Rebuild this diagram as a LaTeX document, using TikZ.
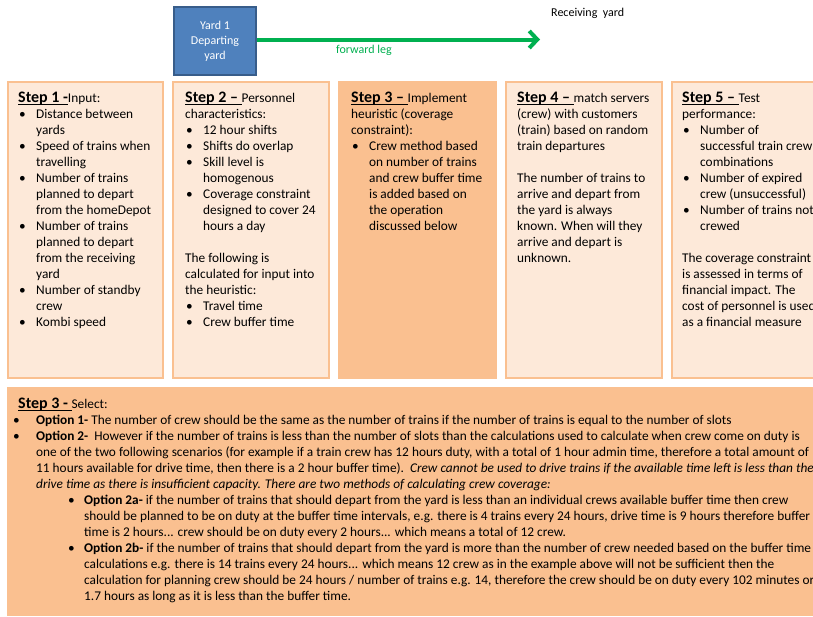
\documentclass[tikz,border=0pt]{standalone}
\usepackage{fontspec}
\setmainfont{Carlito}
\usetikzlibrary{arrows.meta}

\definecolor{peach}{HTML}{FDE9D9}
\definecolor{apricot}{HTML}{FAC090}
\definecolor{steel}{HTML}{4F81BD}
\definecolor{steeldark}{HTML}{385D8A}
\definecolor{leggreen}{HTML}{00B050}

% body text: 16pt leading, strut height 11.2pt
\newcommand\bodyfont{\fontsize{13.33}{16}\selectfont}
% bold underlined step heading
\newsavebox\ulbox
\newcommand\steptitle[1]{{\fontsize{16}{16}\selectfont\bfseries\sbox\ulbox{#1}\rlap{\rule[-2pt]{\wd\ulbox}{1.1pt}}\usebox\ulbox}}
% bullets and hanging indents in the step boxes
\newcommand\bu{\makebox[18pt][l]{\hspace{1pt}•}}
\newcommand\cn{\hspace*{18pt}}
% bullets and hanging indents in the selection box
\newcommand\bbu{\makebox[23pt][l]{•}}
\newcommand\bcn{\hspace*{23pt}}
\newcommand\sbu{\hspace*{55pt}\makebox[16pt][l]{•}}
\newcommand\scn{\hspace*{71pt}}

\tikzset{
  panel/.style={anchor=north west, inner sep=0pt, outer sep=0pt, line width=2pt, draw=apricot},
  stepbox/.style={panel, fill=peach},
  darkbox/.style={panel, fill=apricot},
  bodytext/.style={anchor=north west, inner sep=0pt, align=left, font=\bodyfont, text=black},
  yardbox/.style={draw=steeldark, fill=steel, line width=1.5pt, text=white, align=center,
    font=\fontsize{12}{15}\selectfont, inner sep=0pt, minimum width=82pt, minimum height=68pt},
  leg/.style={draw=leggreen, line width=4pt, -{Straight Barb[length=8pt,width=17pt]}},
  smalllabel/.style={anchor=base west, inner sep=0pt, font=\fontsize{12}{14}\selectfont},
}

\begin{document}
\begin{tikzpicture}[x=1pt, y=-1pt]
\useasboundingbox (0,0) rectangle (813,616);
\clip (0,0) rectangle (813,616);
\fill[white] (0,0) rectangle (813,616);

% yards and the forward leg
\node[yardbox] (yard) at (215,41) {Yard 1\\Departing\\yard};
\coordinate (recv) at (540,39.5);
\draw[leg] (recv -| yard.east) -- (recv);
\node[smalllabel, text=leggreen] (fwd) at (336,53.5) {forward leg};
\node[smalllabel, text=black] (recvlabel) at (551,16.5) {Receiving\ \ yard};

% step panels
\node[stepbox, minimum width=155pt, minimum height=296pt] (box1) at (8,82) {};
\node[stepbox, minimum width=156pt, minimum height=296pt] (box2) at (173,82) {};
\node[darkbox, minimum width=157pt, minimum height=296pt] (box3) at (339,82) {};
\node[stepbox, minimum width=156pt, minimum height=296pt] (box4) at (506,82) {};
\node[stepbox, minimum width=160pt, minimum height=296pt] (box5) at (672,82) {};
\node[darkbox, minimum width=820pt, minimum height=227pt] (select) at (8,388) {};

\node[bodytext] (t1) at (18,91.3) {\strut\steptitle{Step 1 -}Input:\\
\bu Distance between\\
\cn yards\\
\bu Speed of trains when\\
\cn travelling\\
\bu Number of trains\\
\cn planned to depart\\
\cn from the homeDepot\\
\bu Number of trains\\
\cn planned to depart\\
\cn from the receiving\\
\cn yard\\
\bu Number of standby\\
\cn crew\\
\bu Kombi speed};

\node[bodytext] (t2) at (185,91.3) {\strut\steptitle{Step 2 – }Personnel\\
characteristics:\\
\bu 12 hour shifts\\
\bu Shifts do overlap\\
\bu Skill level is\\
\cn homogenous\\
\bu Coverage constraint\\
\cn designed to cover 24\\
\cn hours a day\\[16pt]
The following is\\
calculated for input into\\
the heuristic:\\
\bu Travel time\\
\bu Crew buffer time};

\node[bodytext] (t3) at (351,91.3) {\strut\steptitle{Step 3 – }Implement\\
heuristic (coverage\\
constraint):\\
\bu Crew method based\\
\cn on number of trains\\
\cn and crew buffer time\\
\cn is added based on\\
\cn the operation\\
\cn discussed below};

\node[bodytext] (t4) at (517,91.3) {\strut\steptitle{Step 4 – }match servers\\
(crew) with customers\\
(train) based on random\\
train departures\\[16pt]
The number of trains to\\
arrive and depart from\\
the yard is always\\
known. When will they\\
arrive and depart is\\
unknown.};

\node[bodytext] (t5) at (682,91.3) {\strut\steptitle{Step 5 – }Test\\
performance:\\
\bu Number of\\
\cn successful train crew\\
\cn combinations\\
\bu Number of expired\\
\cn crew (unsuccessful)\\
\bu Number of trains not\\
\cn crewed\\[16pt]
The coverage constraint\\
is assessed in terms of\\
financial impact. The\\
cost of personnel is used\\
as a financial measure};

\node[bodytext] (t6) at (13,397.3) {\hspace*{5pt}\strut\steptitle{Step 3 - }Select:\\
\bbu\textbf{Option 1-} The number of crew should be the same as the number of trains if the number of trains is equal to the number of slots\\
\bbu\textbf{Option 2-}\ \ However if the number of trains is less than the number of slots than the calculations used to calculate when crew come on duty is\\
\bcn one of the two following scenarios (for example if a train crew has 12 hours duty, with a total of 1 hour admin time, therefore a total amount of\\
\bcn 11 hours available for drive time, then there is a 2 hour buffer time).\ \ \textit{Crew cannot be used to drive trains if the available time left is less than the}\\
\bcn\textit{drive time as there is insufficient capacity. There are two methods of calculating crew coverage:}\\
\sbu\textbf{Option 2a-} if the number of trains that should depart from the yard is less than an individual crews available buffer time then crew\\
\scn should be planned to be on duty at the buffer time intervals, e.g. there is 4 trains every 24 hours, drive time is 9 hours therefore buffer\\
\scn time is 2 hours... crew should be on duty every 2 hours... which means a total of 12 crew.\\
\sbu\textbf{Option 2b-} if the number of trains that should depart from the yard is more than the number of crew needed based on the buffer time\\
\scn calculations e.g. there is 14 trains every 24 hours... which means 12 crew as in the example above will not be sufficient then the\\
\scn calculation for planning crew should be 24 hours / number of trains e.g. 14, therefore the crew should be on duty every 102 minutes or\\
\scn 1.7 hours as long as it is less than the buffer time.};
\end{tikzpicture}
\end{document}
